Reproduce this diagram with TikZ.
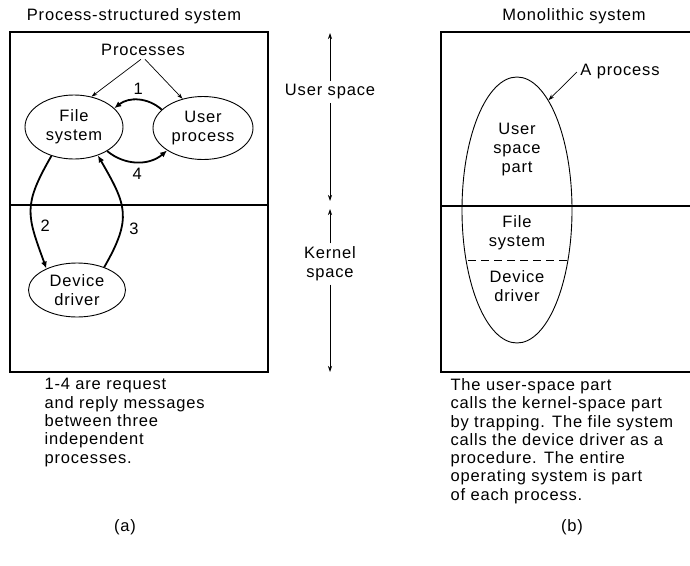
\documentclass[tikz,border=0pt]{standalone}
\usepackage{fontspec}
\setmainfont[LetterSpace=5]{Liberation Sans}
\usetikzlibrary{shapes.geometric, arrows.meta, positioning}

\begin{document}
\begin{tikzpicture}[
    x=1pt, y=-1pt,
    every node/.style={font=\fontsize{16.5}{19}\selectfont, align=center},
    proc/.style={ellipse, draw, line width=0.9pt, inner sep=0pt},
    frame/.style={line width=1.2pt},
    divider/.style={line width=2.8pt},
    msg/.style={-{Latex[length=7pt,width=6pt]}, line width=1.8pt},
    pointer/.style={-{Stealth[length=6pt,width=4pt]}, line width=0.7pt},
    note/.style={anchor=north west, align=left, font=\fontsize{16.5}{18.3}\selectfont}
]
    \useasboundingbox (0,0) rectangle (690,565);

    \node (titleA) at (134,16) {Process-structured system};
    \node (titleB) at (574,16) {Monolithic system};

    \draw[frame] (10,32) rectangle (268,372);
    \draw[divider] (10,205) -- (268,205);
    \draw[frame] (692,32) -- (441,32) -- (441,372) -- (692,372);
    \draw[divider] (441,206) -- (692,206);

    \node[proc, minimum width=98, minimum height=64] (fs) at (74,127) {File\\system};
    \node[proc, minimum width=100, minimum height=63] (up) at (203,128) {User\\process};
    \node[proc, minimum width=97, minimum height=54] (dd) at (77,290) {Device\\driver};
    \node (procs) at (143,50) {Processes};

    \draw[pointer] ([xshift=-2pt]procs.south) -- (fs.60);
    \draw[pointer] ([xshift=2pt]procs.south) -- (up.125);

    \draw[msg] (up.156) to[bend right=40] node[above=1pt] {1} (fs.25);
    \draw[msg] (fs.-36) to[bend right=40] node[below=2pt] {4} (up.212);
    \draw[msg] (fs.232) to[out=-120, in=110, looseness=1.3] node[pos=0.66, right=4pt] {2} (dd.145);
    \draw[msg] (dd.40) to[out=60, in=-60, looseness=1.3] node[pos=0.32, right=4pt] {3} (fs.-50);

    \node (us) at (330,92) {User space};
    \node (ks) at (330,264) {Kernel\\space};
    \coordinate (usTop) at (330,33);
    \coordinate (usBot) at (330,201);
    \coordinate (ksTop) at (330,209);
    \coordinate (ksBot) at (330,372);
    \draw[pointer] (us) -- (usTop);
    \draw[pointer] (us) -- (usBot);
    \draw[pointer] (ks) -- (ksTop);
    \draw[pointer] (ks) -- (ksBot);

    \node[proc, minimum width=110, minimum height=266] (whole) at (517,210) {};
    \node (usp) at (517,150) {User\\space\\part};
    \node (fsb) at (517,233) {File\\system};
    \node (ddb) at (517,286) {Device\\driver};
    \coordinate (cutL) at (468,260);
    \coordinate (cutR) at (567,260);
    \draw[line width=0.9pt, dash pattern=on 8pt off 5pt] (cutL) -- (cutR);
    \node (aproc) at (620,72) {A process};
    \draw[pointer] (aproc.west) -- (whole.74);

    \node[note] (noteA) at (41,375) {1-4 are request\\and reply messages\\between three\\independent\\processes.};
    \node[note] (noteB) at (447,375) {The user-space part\\calls the kernel-space part\\by trapping. The file system\\calls the device driver as a\\procedure. The entire\\operating system is part\\of each process.};
    \node (capA) at (125,527) {(a)};
    \node (capB) at (572,527) {(b)};
\end{tikzpicture}
\end{document}
